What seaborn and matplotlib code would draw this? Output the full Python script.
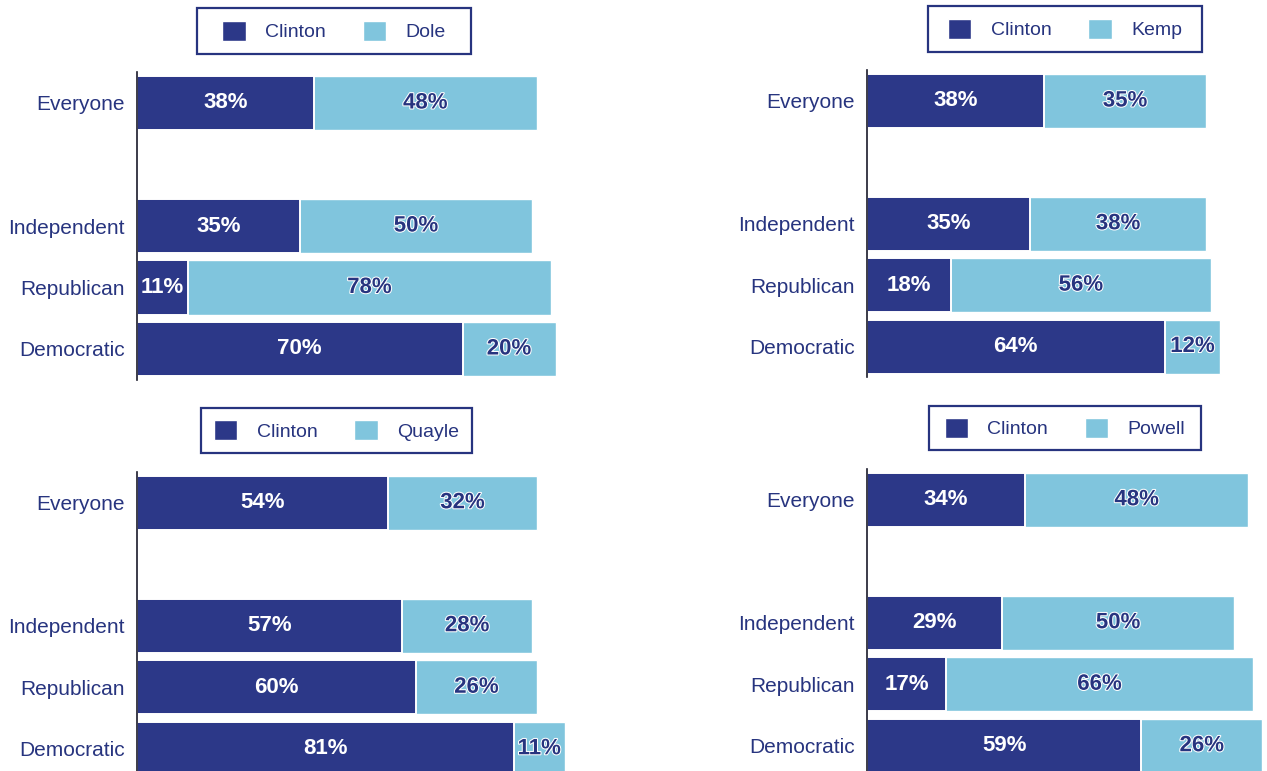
import matplotlib.pyplot as plt
import matplotlib.patheffects as pe
from matplotlib.patches import Patch, Rectangle
import pandas as pd
import seaborn as sns

groups = ["Everyone", "Independent", "Republican", "Democratic"]
slots = ["Everyone", "", "Independent", "Republican", "Democratic"]

clinton_dole = [38, 35, 11, 70]
dole = [48, 50, 78, 20]
clinton_kemp = [38, 35, 18, 64]
kemp = [35, 38, 56, 12]
clinton_quayle = [54, 57, 60, 81]
quayle = [32, 28, 26, 11]
clinton_powell = [34, 29, 17, 59]
powell = [48, 50, 66, 26]

DARK = "#2c3888"
LIGHT = "#80c5dd"
NAVY = "#27347f"

W, H = 1267, 771
PX = 4.65  # pixels per percentage point

sns.set_theme(style="white")
plt.rcParams["font.family"] = ["Liberation Sans", "DejaVu Sans"]

fig = plt.figure(figsize=(W / 100, H / 100), dpi=100)

# axes: left, top, bottom (px), xmax ; legend box: x, y, w, h (px)
panels = [
    (clinton_dole, dole, "Dole", (137, 72.25, 379.75, 100), (197, 8, 274, 46)),
    (clinton_kemp, kemp, "Kemp", (867, 70.3, 377.2, 86), (928, 6, 274, 46)),
    (clinton_quayle, quayle, "Quayle", (137, 472, 779.5, 100), (201, 408, 271, 45)),
    (clinton_powell, powell, "Powell", (867, 469, 776.5, 86), (929, 406, 272, 44)),
]

for clinton, other, name, (left, top, bottom, xmax), (bx, by, bw, bh) in panels:
    df = pd.DataFrame({"group": groups, "clinton": clinton, "other": other})
    df["total"] = df["clinton"] + df["other"]

    ax = fig.add_axes([left / W, 1 - bottom / H, xmax * PX / W, (bottom - top) / H])
    sns.barplot(data=df, x="total", y="group", order=slots, color=LIGHT,
                width=0.88, saturation=1, errorbar=None, ax=ax)
    sns.barplot(data=df, x="clinton", y="group", order=slots, color=DARK,
                width=0.88, saturation=1, errorbar=None,
                edgecolor="white", linewidth=1.4, ax=ax)

    ax.set_xlim(0, xmax)
    ax.set_ylim(4.5, -0.5)
    ax.set(xlabel="", ylabel="")
    ax.set_xticks([])
    ax.tick_params(axis="y", length=0, pad=8.6, labelsize=15, labelcolor=NAVY)
    sns.despine(ax=ax, top=True, right=True, bottom=True)
    ax.spines["left"].set_color("#1a1a2a")
    ax.spines["left"].set_linewidth(1.2)

    for g, c, o in zip(groups, clinton, other):
        y = slots.index(g)
        ax.text(c / 2, y, f"{c}%", ha="center", va="center", color="white",
                fontsize=16, fontweight="bold")
        ax.text(c + o / 2, y, f"{o}%", ha="center", va="center", color=NAVY,
                fontsize=16, fontweight="bold",
                path_effects=[pe.withStroke(linewidth=1.5, foreground="white")])

    handles = [Patch(facecolor=DARK, label="Clinton"), Patch(facecolor=LIGHT, label=name)]
    fig.legend(handles=handles, loc="center",
               bbox_to_anchor=((bx + bw / 2) / W, 1 - (by + bh / 2) / H),
               ncol=2, frameon=False, fontsize=14, handlelength=1.2,
               handleheight=1.2, handletextpad=1.0, columnspacing=1.9,
               labelcolor=NAVY)
    fig.patches.append(Rectangle((bx / W, 1 - (by + bh) / H), bw / W, bh / H,
                                 transform=fig.transFigure, fill=False,
                                 edgecolor=NAVY, linewidth=1.6))

fig.savefig("out.png", dpi=100)
